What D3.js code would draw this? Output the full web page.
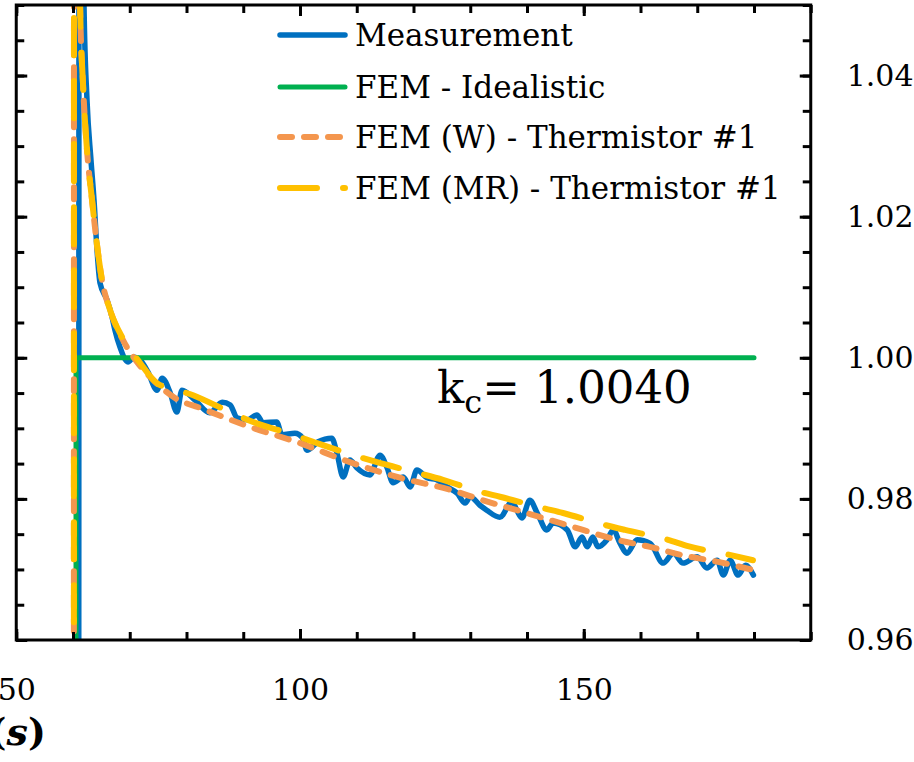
<!DOCTYPE html>
<html>
<head>
<meta charset="utf-8">
<script src="https://cdn.jsdelivr.net/npm/d3@7"></script>
<style>
  html, body { margin: 0; padding: 0; background: #fff; }
  svg { display: block; }
  text { font-family: "DejaVu Serif", serif; fill: #000; }
</style>
</head>
<body>
<svg id="chart" width="914" height="762"></svg>
<script>
// ---------------- data ----------------
const seriesNames = ["Measurement", "FEM - Idealistic", "FEM (W) - Thermistor #1", "FEM (MR) - Thermistor #1"];
const seriesColors = ["#0070C0", "#00B050", "#F4964E", "#FFC000"];

const xTickValues = [50, 100, 150];
const yTickValues = [0.96, 0.98, 1.00, 1.02, 1.04];
const yTickLabels = ["0.96", "0.98", "1.00", "1.02", "1.04"];

// Measurement (time s, ratio)
const measT = [61.0, 61.06, 61.1, 61.94, 62.47, 63.17, 63.70, 64.23, 64.76, 65.99, 66.87, 67.40, 68.28, 69.69, 70.75, 71.8, 73.2, 74.8, 75.7, 77.1, 78.3, 79.2, 81.5, 84.1, 86.3, 87.7, 88.9, 90.7, 92.4, 93.5, 95.9, 96.8, 99.1, 100.5, 101.2, 103.2, 105.6, 106.5, 107.6, 108.8, 110.0, 112.3, 114.1, 115.3, 116.4, 118.2, 119.4, 120.6, 122.4, 124.1, 125.9, 127.7, 129.1, 130.0, 131.7, 132.9, 135.2, 137.4, 138.2, 139.1, 140.5, 141.8, 143.5, 144.6, 147.1, 148.5, 149.7, 150.6, 151.6, 152.5, 154.1, 155.2, 156.4, 157.6, 159.4, 161.7, 164.0, 165.8, 167.5, 170.0, 171.7, 173.5, 174.6, 175.8, 177.2, 178.5, 179.9];
const measV = [0.900, 1.100, 1.200, 1.0500, 1.0365, 1.0280, 1.0224, 1.0153, 1.0106, 1.0082, 1.0058, 1.0039, 1.0015, 0.9994, 1.0001, 0.9997, 0.9980, 0.9954, 0.9971, 0.9951, 0.9923, 0.9954, 0.9940, 0.9922, 0.9937, 0.9933, 0.9915, 0.9912, 0.9919, 0.9908, 0.9909, 0.9891, 0.9893, 0.9886, 0.9869, 0.9881, 0.9886, 0.9865, 0.9831, 0.9855, 0.9844, 0.9834, 0.9862, 0.9845, 0.9823, 0.9831, 0.9817, 0.9841, 0.9830, 0.9827, 0.9817, 0.9808, 0.9794, 0.9803, 0.9791, 0.9784, 0.9774, 0.9796, 0.9784, 0.9773, 0.9798, 0.9780, 0.9756, 0.9766, 0.9756, 0.9732, 0.9746, 0.9732, 0.9746, 0.9732, 0.9742, 0.9756, 0.9737, 0.9723, 0.9742, 0.9737, 0.9709, 0.9723, 0.9709, 0.9718, 0.9702, 0.9713, 0.9692, 0.9713, 0.9692, 0.9706, 0.9692];

// FEM - Idealistic
const idealT = [60.53, 60.53, 180];
const idealV = [0.90, 1.00, 1.00];

// FEM (W) - Thermistor #1
const femWT = [60.15, 60.2, 60.7, 61.23, 61.76, 62.47, 63.35, 64.23, 65.11, 66.52, 68.81, 71.28, 74.45, 77.97, 82.38, 91.19, 100.0, 108.81, 117.62, 126.43, 132.25, 138.24, 144.05, 149.87, 155.86, 161.67, 167.49, 173.48, 180.0];
const femWV = [0.900, 1.150, 1.150, 1.0507, 1.0389, 1.0294, 1.0224, 1.0160, 1.0110, 1.0068, 1.0025, 0.9994, 0.9966, 0.9943, 0.9929, 0.9902, 0.9879, 0.9852, 0.9830, 0.9813, 0.9798, 0.9784, 0.9770, 0.9756, 0.9742, 0.9732, 0.9720, 0.9711, 0.9699];

// FEM (MR) - Thermistor #1
const femMRT = [60.15, 60.2, 60.7, 61.23, 61.76, 62.47, 63.35, 64.23, 65.11, 66.52, 68.81, 71.8, 74.8, 81.17, 87.69, 91.74, 98.79, 103.0, 109.34, 113.57, 120.62, 125.2, 131.72, 135.24, 142.82, 146.34, 153.74, 157.27, 164.85, 168.37, 176.12, 179.82];
const femMRV = [0.900, 1.150, 1.150, 1.0507, 1.0389, 1.0294, 1.0224, 1.0160, 1.0110, 1.0068, 1.0027, 0.9993, 0.9964, 0.9947, 0.9923, 0.9909, 0.9891, 0.9879, 0.9862, 0.9852, 0.9837, 0.9827, 0.9810, 0.9803, 0.9787, 0.9780, 0.9763, 0.9756, 0.9742, 0.9733, 0.9720, 0.9713];

const annotation = "1.0040";

// ---------------- layout ----------------
const svg = d3.select("#chart");
const L = 16.25, R = 810.75, T = 5, B = 640;

const x = d3.scaleLinear().domain([50, 190]).range([L, R]);
const y = d3.scaleLinear().domain([0.96, 1.05]).range([B, T]);

svg.append("defs").append("clipPath").attr("id", "plotclip")
  .append("rect").attr("x", L).attr("y", T).attr("width", R - L).attr("height", B - T);

const plot = svg.append("g").attr("clip-path", "url(#plotclip)");

const lineC = d3.line().x(d => x(d[0])).y(d => y(d[1])).curve(d3.curveMonotoneX);
const lineL = d3.line().x(d => x(d[0])).y(d => y(d[1]));

const zip = (a, b) => a.map((v, i) => [v, b[i]]);

const styles = [
  { w: 5.5, dash: null },
  { w: 5, dash: null },
  { w: 6, dash: "12 12" },
  { w: 6, dash: "37 26" }
];

// Measurement
plot.append("path").attr("d", lineC(zip(measT, measV)))
  .attr("fill", "none").attr("stroke", seriesColors[0]).attr("stroke-width", styles[0].w)
  .attr("stroke-linejoin", "round").attr("stroke-linecap", "round");
// Idealistic
plot.append("path").attr("d", lineL(zip(idealT, idealV)))
  .attr("fill", "none").attr("stroke", seriesColors[1]).attr("stroke-width", styles[1].w)
  .attr("stroke-linecap", "round");
// FEM W
plot.append("path").attr("d", lineC(zip(femWT, femWV)))
  .attr("fill", "none").attr("stroke", seriesColors[2]).attr("stroke-width", styles[2].w)
  .attr("stroke-dasharray", styles[2].dash).attr("stroke-linecap", "round");
// FEM MR
plot.append("path").attr("d", lineC(zip(femMRT, femMRV)))
  .attr("fill", "none").attr("stroke", seriesColors[3]).attr("stroke-width", styles[3].w)
  .attr("stroke-dasharray", styles[3].dash).attr("stroke-linecap", "round");

// ---------------- axes ----------------
const minorX = d3.range(50, 191, 10);
const minorY = d3.range(0, 19).map(i => +(0.96 + i * 0.005).toFixed(3));

function styleAxis(g) {
  g.select(".domain").remove();
  g.selectAll(".tick line").attr("stroke", "#000").attr("stroke-width", 3);
  g.selectAll(".tick text").style("font-family", "'DejaVu Serif', serif").style("font-size", "30px").attr("fill", "#000");
}

// bottom minor + major
svg.append("g").attr("transform", `translate(0,${B})`)
  .call(d3.axisBottom(x).tickValues(minorX).tickSize(-8).tickFormat("")).call(styleAxis);
svg.append("g").attr("transform", `translate(0,${B})`)
  .call(d3.axisBottom(x).tickValues(xTickValues).tickSize(-11).tickPadding(39).tickFormat(d3.format("d"))).call(styleAxis);
// top
svg.append("g").attr("transform", `translate(0,${T})`)
  .call(d3.axisTop(x).tickValues(minorX).tickSize(-8).tickFormat("")).call(styleAxis);
svg.append("g").attr("transform", `translate(0,${T})`)
  .call(d3.axisTop(x).tickValues(xTickValues).tickSize(-11).tickFormat("")).call(styleAxis);
// left
svg.append("g").attr("transform", `translate(${L},0)`)
  .call(d3.axisLeft(y).tickValues(minorY).tickSize(-8).tickFormat("")).call(styleAxis);
svg.append("g").attr("transform", `translate(${L},0)`)
  .call(d3.axisLeft(y).tickValues(yTickValues).tickSize(-11).tickFormat("")).call(styleAxis);
// right
svg.append("g").attr("transform", `translate(${R},0)`)
  .call(d3.axisRight(y).tickValues(minorY).tickSize(-8).tickFormat("")).call(styleAxis);
svg.append("g").attr("transform", `translate(${R},0)`)
  .call(d3.axisRight(y).tickValues(yTickValues).tickSize(-11).tickPadding(36)
    .tickFormat((d, i) => yTickLabels[i])).call(styleAxis);

// frame
svg.append("rect").attr("x", L).attr("y", T).attr("width", R - L).attr("height", B - T)
  .attr("fill", "none").attr("stroke", "#000").attr("stroke-width", 3);

// x title (cut off at left edge, as in the reference crop)
const xt = svg.append("text").attr("x", 46).attr("y", 745).attr("text-anchor", "end")
  .style("font-size", "38px").style("font-weight", "bold");
xt.append("tspan").text("Time (");
xt.append("tspan").style("font-style", "italic").text("s");
xt.append("tspan").text(")");

// ---------------- legend ----------------
const legY = [35, 87, 137, 188];
const leg = svg.append("g");
seriesNames.forEach((name, i) => {
  leg.append("line").attr("x1", 280).attr("x2", 345).attr("y1", legY[i]).attr("y2", legY[i])
    .attr("stroke", seriesColors[i]).attr("stroke-width", styles[i].w)
    .attr("stroke-linecap", "round")
    .attr("stroke-dasharray", styles[i].dash);
  leg.append("text").attr("x", 355).attr("y", legY[i]).attr("dy", "0.36em")
    .style("font-size", "31px").text(name);
});

// ---------------- annotation ----------------
const ann = svg.append("text").attr("x", 437).attr("y", 403).style("font-size", "45px");
ann.append("tspan").text("k");
ann.append("tspan").attr("dy", 10).style("font-size", "32px").text("c");
ann.append("tspan").attr("dy", -10).text("= " + annotation);
</script>
</body>
</html>
